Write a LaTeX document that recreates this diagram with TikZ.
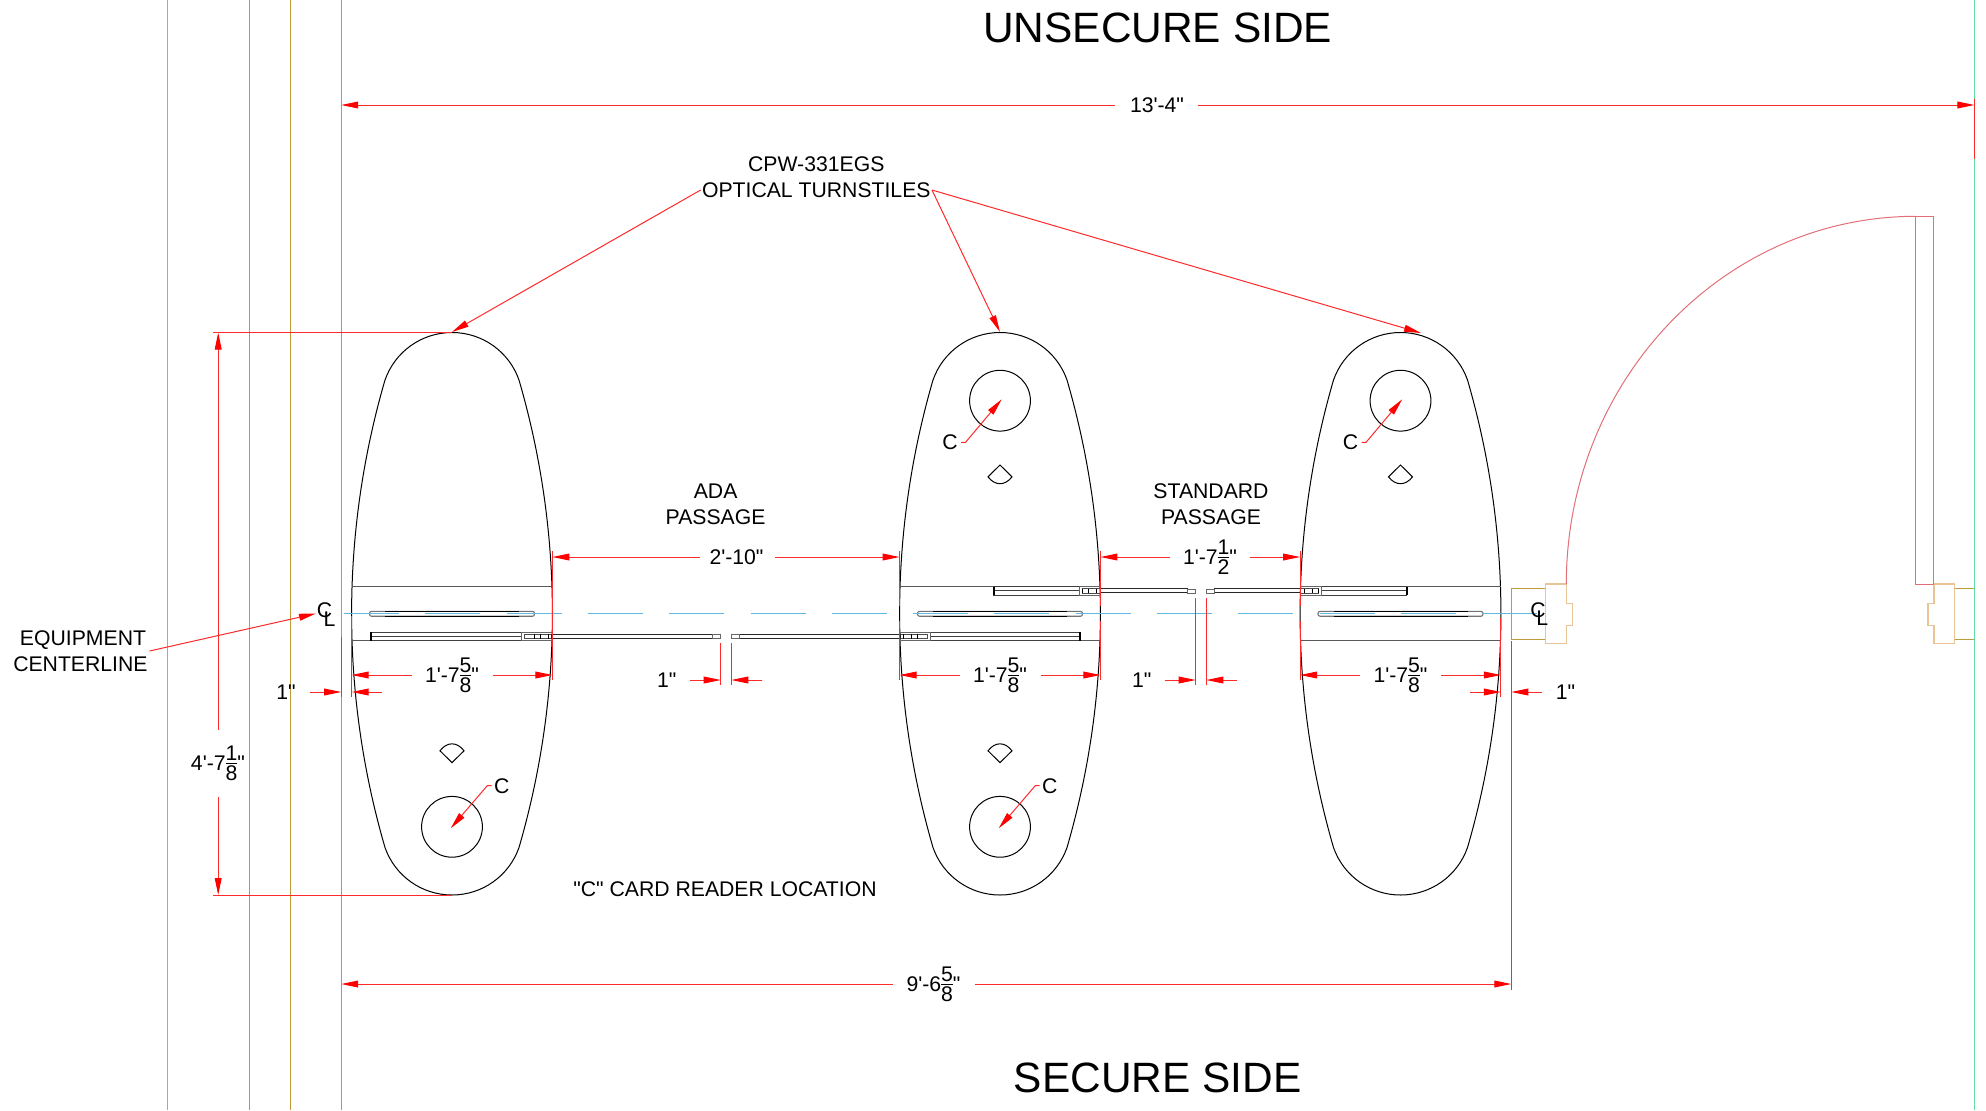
\documentclass[tikz,border=0pt]{standalone}
\usepackage{fontspec}
\usetikzlibrary{arrows.meta}
\newfontfamily\lab{Liberation Sans}
\definecolor{goldl}{HTML}{BE9A3C}
\definecolor{tanl}{HTML}{E8C498}
\definecolor{doorl}{HTML}{E27078}
\definecolor{bluel}{HTML}{62B8E0}
\definecolor{greenl}{HTML}{58E058}
\definecolor{greenr}{HTML}{62DCA0}
\definecolor{dimred}{HTML}{FF2A2A}
\newcommand\frc[2]{\raisebox{-.47em}{\vbox{\offinterlineskip\halign{\hfil##\hfil\cr
  \vrule height .7em depth 0pt width 0pt #1\cr
  \noalign{\kern .09em\hrule height .045em\kern .09em}
  \vrule height .7em depth 0pt width 0pt #2\cr}}}}
% gate: y of housing top, housing end, housing/box, box/leaf, leaf/tip, tip end
\newcommand\gate[6]{%
  \pgfmathsetmacro\sgn{(#4>#3)?1:-1}%
  \begin{scope}[shift={(0,#1)}]
    \draw[hsg] (#2,0) rectangle (#3,8.4);
    \draw[hsg] (#2,4.2) -- (#3,4.2);
    \draw[black,line width=1.1pt] (#2,0) -- (#2,8.4);
    \draw[boxl] (#3,0) rectangle (#4,8.4);
    \draw[boxl,line width=.35pt,black!70] (#3+\sgn*3,2) rectangle (#4,6.4);
    \draw[boxl,line width=.4pt,black] (#4-\sgn*3.7,2) -- (#4-\sgn*3.7,6.4) (#4-\sgn*11.7,2) -- (#4-\sgn*11.7,6.4) (#4-\sgn*17.7,2) -- (#4-\sgn*17.7,6.4);
    \draw[leafl] (#4,2.2) rectangle (#5,6.2);
    \draw[boxl,line width=.35pt] (#5,2.2) rectangle (#6,6.2);
  \end{scope}}
\tikzset{
  lbl/.style={font=\lab\fontsize{10.6}{12}\selectfont,inner sep=0pt,align=center,text=black},
  big/.style={font=\lab\fontsize{21.2}{24}\selectfont,inner sep=0pt,text=black},
  cab/.style={draw=black,line width=.5pt},
  hsg/.style={draw=black!75,line width=.45pt},
  boxl/.style={draw=black!60,line width=.5pt},
  leafl/.style={draw=black!85,line width=.55pt},
  dimline/.style={draw=dimred,line width=.5pt},
  arr/.style={draw=dimred,line width=.5pt,-{Triangle[length=8.5pt,width=3.4pt,fill=red,color=red]}},
  door/.style={draw=doorl,line width=.5pt},
  frm/.style={draw=tanl,line width=.7pt},
  gold/.style={draw=goldl,line width=.55pt}
}
\begin{document}
\begin{tikzpicture}[x=.5pt,y=-.5pt]
\useasboundingbox (0,0) rectangle (1986,1110);
\fill[white] (0,0) rectangle (1986,1110);
% grid verticals
\draw[greenl,line width=.55pt] (167.6,0) -- (167.6,1110);
\draw[greenr,line width=.55pt] (1974.4,0) -- (1974.4,1110);
\draw[gold] (249.5,0) -- (249.5,1110);
\draw[gold] (290.4,0) -- (290.4,1110);
\draw[gold] (341.2,0) -- (341.2,1110);
% door and frames
\draw[gold] (1545.5,588.3) -- (1511.3,588.3) -- (1511.3,639.3) -- (1545.5,639.3);
\draw[gold] (1954.3,588.3) -- (1974.4,588.3) (1954.3,639.3) -- (1974.4,639.3);
\draw[frm] (1545.5,584) -- (1566.3,584) -- (1566.3,603.3) -- (1572.7,603.3) -- (1572.7,625.7) -- (1566.3,625.7) -- (1566.3,643.3) -- (1545.5,643.3) -- cycle;
\draw[frm] (1954.3,584) -- (1934,584) -- (1934,603.3) -- (1927.8,603.3) -- (1927.8,625.7) -- (1934,625.7) -- (1934,643.3) -- (1954.3,643.3) -- cycle;
\draw[door] (1566.3,584) .. controls (1566.3,381.2) and (1722.8,216.3) .. (1915.7,216.3);
\draw[door] (1915.7,584) -- (1915.7,216.3) -- (1933.3,216.3) -- (1933.3,584) -- cycle;
% cabinets
\foreach \cx in {452,1000,1400.5}{
\begin{scope}[shift={(\cx,0)}]
  \draw[cab] (0,332.5) .. controls (30.2,332.5) and (57,351.5) .. (67,380)
     .. controls (89.1,455.9) and (100.4,534.65) .. (100.4,613.75)
     .. controls (100.4,692.85) and (89.1,771.6) .. (67,847.5)
     .. controls (57,876) and (30.2,895) .. (0,895)
     .. controls (-30.2,895) and (-57,876) .. (-67,847.5)
     .. controls (-89.1,771.6) and (-100.4,692.85) .. (-100.4,613.75)
     .. controls (-100.4,534.65) and (-89.1,455.9) .. (-67,380)
     .. controls (-57,351.5) and (-30.2,332.5) .. (0,332.5) -- cycle;
  \draw[black!65,line width=.55pt] (-100.2,586.7) -- (100.2,586.7);
  \draw[black!65,line width=.5pt] (-100.2,640.7) -- (100.2,640.7);
  % display bar
  \draw[draw=black!55,line width=.55pt,fill=white,rounded corners=1pt] (-82.5,611.4) rectangle (82.5,616.2);
  \draw[black,line width=.6pt] (-67,611.4) -- (67,611.4) (-67,616.2) -- (67,616.2);
\end{scope}}
% readers
\foreach \cx/\cy in {452/826.8,1000/826.8,1000/400.7,1400.5/400.7}{
  \draw[cab] (\cx,\cy) circle[radius=15.2pt];
}
\foreach \cx in {452,1000}{
  \draw[cab] (\cx,762.6) -- (\cx-12,750.8) .. controls (\cx-5,741.5) and (\cx+5,741.5) .. (\cx+12,750.8) -- cycle;
}
\foreach \cx in {1000,1400.5}{
  \draw[cab] (\cx,465) -- (\cx-12,476.8) .. controls (\cx-5,486) and (\cx+5,486) .. (\cx+12,476.8) -- cycle;
}
% centerline
\draw[bluel,line width=.7pt,dash pattern=on 27.5pt off 13.15pt] (344,613.5) -- (1538,613.5);
% gates
\gate{632.3}{371.3}{521.7}{552}{712.7}{720.7}
\gate{632.3}{1080}{930.7}{900}{739.3}{731.3}
\gate{586.7}{993.6}{1079.3}{1100.4}{1187.7}{1195.7}
\gate{586.7}{1406.8}{1321.4}{1300.4}{1214.3}{1206.3}
% titles
\node[big] (unsec) at (1157.7,28) {UNSECURE SIDE};
\node[big] (sec) at (1157.7,1078) {SECURE SIDE};
% labels
\node[lbl] (cpw) at (816.3,164.4) {CPW-331EGS};
\node[lbl] (opt) at (816.3,190) {OPTICAL TURNSTILES};
\node[lbl] (ada1) at (715.6,491.4) {ADA};
\node[lbl] (ada2) at (715.6,517.3) {PASSAGE};
\node[lbl] (std1) at (1211,491.4) {STANDARD};
\node[lbl] (std2) at (1211,517.3) {PASSAGE};
\node[lbl] (card) at (725,889) {"C" CARD READER LOCATION};
\node[lbl] (eq1) at (83,640) {EQUIPMENT};
\node[lbl] (eq2) at (80.4,664) {CENTERLINE};
\node[lbl,anchor=base west] (cl1) at (316.35,617.6) {C\kern-4.27pt\raisebox{-4.5pt}{L}};
\node[lbl,anchor=base west] (cl2) at (1529.95,617.6) {C\kern-4.6pt\raisebox{-4pt}{L}};
% overall dimensions
\node[lbl] (d134) at (1157,105) {13'-4"};
\node[lbl] (d96) at (933.5,984) {9'-6\frc{5}{8}"};
\node[lbl] (d47) at (218,763.3) {4'-7\frc{1}{8}"};
\node[lbl] (d210) at (736.5,557) {2'-10"};
\node[lbl] (d17h) at (1210,557) {1'-7\frc{1}{2}"};
\coordinate (t1) at (341.2,105); \coordinate (t2) at (1974.4,105);
\draw[arr] (1115,105) -- (t1);
\draw[arr] (1198,105) -- (t2);
\draw[dimline] (1974.4,99.3) -- (1974.4,159);
\coordinate (b1) at (341.2,984); \coordinate (b2) at (1511.3,984);
\draw[arr] (893,984) -- (b1);
\draw[arr] (975,984) -- (b2);
\draw[dimline] (1511.3,641) -- (1511.3,990);
\coordinate (v1) at (218.2,332.5); \coordinate (v2) at (218.2,895);
\draw[arr] (218.2,730) -- (v1);
\draw[arr] (218.2,796.7) -- (v2);
\draw[dimline] (213,332.5) -- (452,332.5);
\draw[dimline] (213,895) -- (452,895);
% passage widths
\draw[arr] (700,557) -- (552.4,557);
\draw[arr] (775,557) -- (899.6,557);
\draw[arr] (1170,557) -- (1100.4,557);
\draw[arr] (1250,557) -- (1300.1,557);
% extension lines on the cabinets
\draw[dimline] (351.6,616) -- (351.6,697);
\draw[dimline] (552.4,551) -- (552.4,680);
\draw[dimline] (899.6,551) -- (899.6,606) (899.6,621) -- (899.6,680);
\draw[dimline] (1100.4,551) -- (1100.4,606) (1100.4,621) -- (1100.4,680);
\draw[dimline] (1300.1,551) -- (1300.1,606) (1300.1,621) -- (1300.1,680);
\draw[dimline] (1500.9,618) -- (1500.9,697);
\draw[dimline] (341.2,637) -- (341.2,697);
% cabinet widths
\foreach \cx/\nm in {452/a,1000/b,1400.5/c}{
  \node[lbl] (w\nm) at (\cx,675) {1'-7\frc{5}{8}"};
  \draw[arr] (\cx-40.5,675) -- (\cx-100.4,675);
  \draw[arr] (\cx+40.5,675) -- (\cx+100.4,675);
}
% 1 inch dims
\node[lbl] (i1) at (286,692.5) {1"};
\draw[arr] (310,692) -- (341.2,692);
\draw[arr] (382.3,692) -- (351.6,692);
\node[lbl] (i2) at (666.7,680) {1"};
\draw[arr] (690,680) -- (720.7,680);
\draw[arr] (762.3,680) -- (731.3,680);
\draw[dimline] (720.7,643) -- (720.7,685) (731.3,643) -- (731.3,685);
\node[lbl] (i3) at (1141.8,680) {1"};
\draw[arr] (1164.6,680) -- (1195.7,680);
\draw[arr] (1237,680) -- (1206.3,680);
\draw[dimline] (1195.7,598) -- (1195.7,685) (1206.3,598) -- (1206.3,685);
\node[lbl] (i4) at (1565.5,692.5) {1"};
\draw[arr] (1470,692) -- (1500.9,692);
\draw[arr] (1542,692) -- (1511.3,692);
% card reader labels and leaders
\node[lbl] (c1) at (501.7,785.7) {C};
\node[lbl] (c2) at (1049.7,785.7) {C};
\node[lbl] (c3) at (950,442.3) {C};
\node[lbl] (c4) at (1350.5,442.3) {C};
\coordinate (r1) at (450.7,828.3); \coordinate (r2) at (998.7,828.3);
\coordinate (r3) at (1001.7,399.3); \coordinate (r4) at (1402.2,399.3);
\draw[arr] (c1.west) ++(-2,0) -- ++(-4.4,0) -- (r1);
\draw[arr] (c2.west) ++(-2,0) -- ++(-4.4,0) -- (r2);
\draw[arr] (c3.east) ++(3,0) -- ++(4.5,0) -- (r3);
\draw[arr] (c4.east) ++(3,0) -- ++(4.5,0) -- (r4);
% turnstile leaders
\coordinate (ts1) at (452,332); \coordinate (ts2) at (1000,332); \coordinate (ts3) at (1421,333);
\draw[arr] (opt.west) ++(-1,0) -- (ts1);
\draw[arr] (opt.east) ++(1,0) -- (ts2);
\draw[arr] (opt.east) ++(1,0) -- (ts3);
% centerline leader
\coordinate (eqs) at (149.5,651); \coordinate (eqt) at (316,613.5);
\draw[arr] (eqs) -- (eqt);
\end{tikzpicture}
\end{document}
